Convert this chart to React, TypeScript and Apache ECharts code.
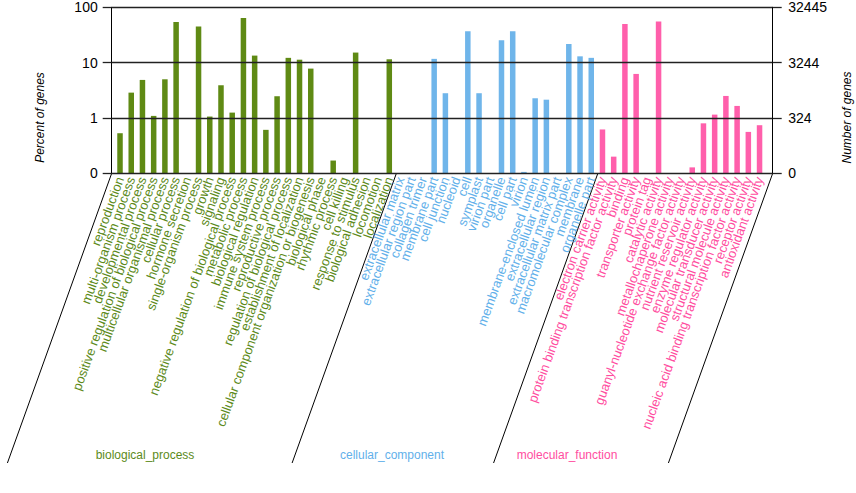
import React, { useEffect, useRef } from "react";
import * as echarts from "echarts";

const bpCategories = [
  "reproduction",
  "multi-organism process",
  "developmental process",
  "positive regulation of biological process",
  "multicellular organismal process",
  "cellular process",
  "hormone secretion",
  "single-organism process",
  "growth",
  "signaling",
  "negative regulation of biological process",
  "metabolic process",
  "biological regulation",
  "immune system process",
  "reproductive process",
  "regulation of biological process",
  "establishment of localization",
  "cellular component organization or biogenesis",
  "biological phase",
  "rhythmic process",
  "cell killing",
  "response to stimulus",
  "biological adhesion",
  "locomotion",
  "localization",
];
const bpValues: (number | null)[] = [
  0.53, 2.87, 4.87, 1.09, 5.0, 54.5, null, 44.8, 1.06, 3.9, 1.25, 64, 13.4,
  0.61, 2.47, 12.2, 11.3, 7.8, null, 0.17, null, 15.2, null, null, 11.5,
];

const ccCategories = [
  "extracellular matrix",
  "extracellular region part",
  "collagen trimer",
  "membrane part",
  "cell junction",
  "nucleoid",
  "cell",
  "symplast",
  "virion part",
  "organelle",
  "cell part",
  "virion",
  "membrane-enclosed lumen",
  "extracellular region",
  "extracellular matrix part",
  "macromolecular complex",
  "membrane",
  "organelle part",
];
const ccValues: (number | null)[] = [
  null, null, null, 11.7, 2.8, null, 37, 2.8, null, 25.4, 37, 0.106, 2.27,
  2.14, null, 21.8, 13, 12.2,
];

const mfCategories = [
  "electron carrier activity",
  "protein binding transcription factor activity",
  "binding",
  "transporter activity",
  "protein tag",
  "catalytic activity",
  "metallochaperone activity",
  "guanyl-nucleotide exchange factor activity",
  "nutrient reservoir activity",
  "enzyme regulator activity",
  "molecular transducer activity",
  "structural molecule activity",
  "nucleic acid binding transcription factor activity",
  "receptor activity",
  "antioxidant activity",
];
const mfValues: (number | null)[] = [
  0.62, 0.2, 50, 6.25, null, 55.2, null, null, 0.128, 0.8, 1.15, 2.5, 1.65,
  0.56, 0.74,
];

const groupNames = ["biological_process", "cellular_component", "molecular_function"];
const leftTickLabels = ["0", "1", "10", "100"];
const rightTickLabels = ["0", "324", "3244", "32445"];

const GREEN = "#5f8a14";
const BLUE = "#6fb5ea";
const PINK = "#ff5fab";
const GREEN_T = "#5c8a1a";
const BLUE_T = "#62b0ea";
const PINK_T = "#ff4da0";
const FONT = "'Liberation Sans', Arial, sans-serif";

const toLog = (v: number | null) => (v == null || v < 0.1 ? null : Math.log10(v) + 1);

export default function App() {
  const ref = useRef<HTMLDivElement>(null);
  useEffect(() => {
    if (!ref.current) return;
    const chart = echarts.init(ref.current, null, { renderer: "svg" });
    const allCats = [...bpCategories, ...ccCategories, ...mfCategories];
    const nB = bpCategories.length;
    const nC = ccCategories.length;
    const nM = mfCategories.length;
    const pad = (n: number) => new Array(n).fill(null);
    const bpData = [...bpValues.map(toLog), ...pad(nC + nM)];
    const ccData = [...pad(nB), ...ccValues.map(toLog), ...pad(nM)];
    const mfData = [...pad(nB + nC), ...mfValues.map(toLog)];
    const colorOf = (_v: string, i: number) =>
      i < nB ? GREEN_T : i < nB + nC ? BLUE_T : PINK_T;

    const top = 7.3;
    const bottom = 493 - 173.3;

    chart.setOption({
      animation: false,
      backgroundColor: "#fff",
      textStyle: { fontFamily: FONT },
      grid: [
        { left: 111.7, right: 856 - 772.7, top, bottom },
        { left: 114.4, right: 856 - 114.4 - 58 * 11.22, top, bottom },
      ],
      xAxis: [
        { gridIndex: 0, type: "value", min: 0, max: 1, show: false },
        {
          gridIndex: 1,
          type: "category",
          data: allCats,
          boundaryGap: true,
          axisLine: { show: false },
          axisTick: { show: false },
          axisLabel: {
            interval: 0,
            rotate: 70,
            margin: 4,
            fontSize: 13,
            fontFamily: FONT,
            color: colorOf,
            hideOverlap: false,
          },
        },
      ],
      yAxis: [
        {
          gridIndex: 0,
          type: "value",
          position: "left",
          min: 0,
          max: 3,
          interval: 1,
          z: 5,
          axisLine: { show: true, lineStyle: { color: "#000", width: 1 } },
          axisTick: { show: true, length: 9, lineStyle: { color: "#222", width: 1.3 } },
          splitLine: { show: true, lineStyle: { color: "#222", width: 1.3 } },
          axisLabel: {
            fontSize: 14,
            color: "#000",
            margin: 14,
            fontFamily: FONT,
            formatter: (v: number) => leftTickLabels[Math.round(v)],
          },
        },
        {
          gridIndex: 0,
          type: "value",
          position: "right",
          min: 0,
          max: 3,
          interval: 1,
          z: 5,
          axisLine: { show: true, lineStyle: { color: "#000", width: 1 } },
          axisTick: { show: true, length: 9, lineStyle: { color: "#222", width: 1.3 } },
          splitLine: { show: false },
          axisLabel: {
            fontSize: 14,
            color: "#000",
            margin: 15.5,
            fontFamily: FONT,
            formatter: (v: number) => rightTickLabels[Math.round(v)],
          },
        },
        { gridIndex: 1, type: "value", min: 0, max: 3, show: false },
      ],
      series: [
        { name: groupNames[0], type: "bar", xAxisIndex: 1, yAxisIndex: 2, data: bpData, barWidth: 5.5, barGap: "-100%", itemStyle: { color: GREEN } },
        { name: groupNames[1], type: "bar", xAxisIndex: 1, yAxisIndex: 2, data: ccData, barWidth: 5.5, barGap: "-100%", itemStyle: { color: BLUE } },
        { name: groupNames[2], type: "bar", xAxisIndex: 1, yAxisIndex: 2, data: mfData, barWidth: 5.5, barGap: "-100%", itemStyle: { color: PINK } },
      ],
    });

    const yBase = chart.convertToPixel({ yAxisIndex: 0 }, 0) as number;
    const xLeft = chart.convertToPixel({ xAxisIndex: 0 }, 0) as number;
    const xRight = chart.convertToPixel({ xAxisIndex: 0 }, 1) as number;
    const px = (name: string) => chart.convertToPixel({ xAxisIndex: 1 }, name) as number;
    const sep1 = (px(bpCategories[nB - 1]) + px(ccCategories[0])) / 2 + 1.5;
    const sep2 = (px(ccCategories[nC - 1]) + px(mfCategories[0])) / 2 + 1;
    const yEnd = 463;
    const slope = 0.36;
    const slant = (x: number) => ({
      type: "line",
      shape: { x1: x, y1: yBase, x2: x - slope * (yEnd - yBase), y2: yEnd },
      style: { stroke: "#000", lineWidth: 1 },
      silent: true,
    });
    const groupText = (text: string, x: number, color: string) => ({
      type: "text",
      x,
      y: 455,
      style: { text, fill: color, font: `12px ${FONT}`, align: "center", verticalAlign: "middle" },
    });
    chart.setOption({
      graphic: [
        slant(xLeft),
        slant(sep1),
        slant(sep2),
        slant(xRight),
        groupText(groupNames[0], 145, GREEN_T),
        groupText(groupNames[1], 392, BLUE_T),
        groupText(groupNames[2], 567, PINK_T),
        {
          type: "text",
          x: 40,
          y: 117.5,
          rotation: Math.PI / 2,
          style: { text: "Percent of genes", fill: "#000", font: `italic 12px ${FONT}`, align: "center", verticalAlign: "middle" },
        },
        {
          type: "text",
          x: 846.7,
          y: 117.5,
          rotation: Math.PI / 2,
          style: { text: "Number of genes", fill: "#000", font: `italic 12px ${FONT}`, align: "center", verticalAlign: "middle" },
        },
      ],
    });

    return () => chart.dispose();
  }, []);
  return (
    <div
      ref={ref}
      style={{ position: "fixed", left: 0, top: 0, width: 856, height: 493 }}
    />
  );
}
